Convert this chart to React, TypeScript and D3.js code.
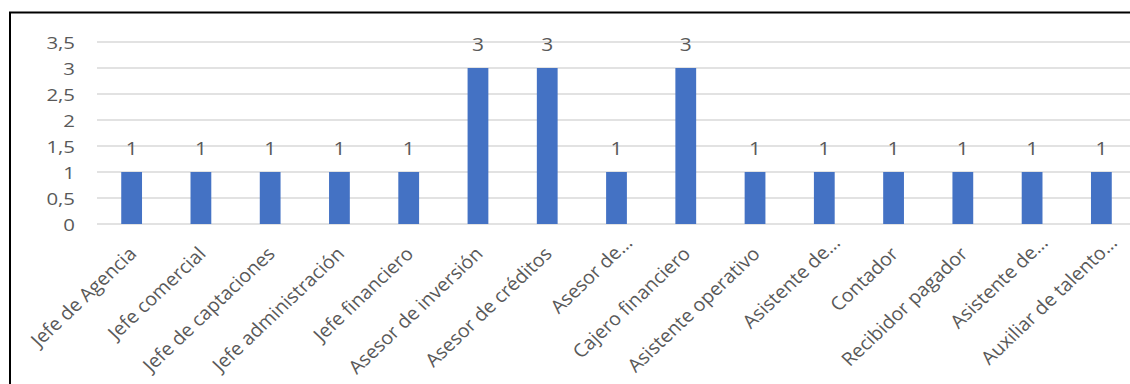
import { scaleBand, scaleLinear } from "d3";

const categories = [
  "Jefe de Agencia",
  "Jefe comercial",
  "Jefe de captaciones",
  "Jefe administración",
  "Jefe financiero",
  "Asesor de inversión",
  "Asesor de créditos",
  "Asesor de…",
  "Cajero financiero",
  "Asistente operativo",
  "Asistente de…",
  "Contador",
  "Recibidor pagador",
  "Asistente de…",
  "Auxiliar de talento…",
];
const values = [1, 1, 1, 1, 1, 3, 3, 1, 3, 1, 1, 1, 1, 1, 1];
const yTicks = [0, 0.5, 1, 1.5, 2, 2.5, 3, 3.5];

const W = 1130;
const H = 384;
const FONT = "'Open Sans', sans-serif";
const TEXT = "#595959";

export default function App() {
  // x band per category, bars ~30% of the slot
  const x = scaleBand<number>()
    .domain(categories.map((_, i) => i))
    .range([97, 1136])
    .paddingInner(0.7)
    .paddingOuter(0.35);
  const y = scaleLinear().domain([0, 3.5]).range([224, 42]);
  const fmt = (v: number) => String(v).replace(".", ",");

  return (
    <svg
      width={W}
      height={H}
      style={{ position: "absolute", left: 0, top: 0, background: "#fff" }}
      fontFamily={FONT}
    >
      <rect x={0} y={0} width={W} height={H} fill="#fff" />

      {/* gridlines */}
      {yTicks.map((t) => (
        <line
          key={t}
          x1={97}
          x2={W}
          y1={y(t)}
          y2={y(t)}
          stroke="#d9d9d9"
          strokeWidth={1.6}
        />
      ))}

      {/* y tick labels (source picture is a bit stretched sideways) */}
      {yTicks.map((t) => (
        <text
          key={"t" + t}
          transform={`translate(75,${y(t)}) scale(1.2,1)`}
          dy="0.43em"
          textAnchor="end"
          fontSize={17}
          fill={TEXT}
        >
          {fmt(t)}
        </text>
      ))}

      {/* bars */}
      {values.map((v, i) => (
        <rect
          key={"b" + i}
          x={x(i)}
          y={y(v)}
          width={x.bandwidth()}
          height={y(0) - y(v)}
          fill="#4472c4"
        />
      ))}

      {/* value labels */}
      {values.map((v, i) => (
        <text
          key={"v" + i}
          transform={`translate(${(x(i) ?? 0) + x.bandwidth() / 2},${y(v) - 17.5}) scale(1.1,1)`}
          textAnchor="middle"
          fontSize={19}
          fill={TEXT}
        >
          {v}
        </text>
      ))}

      {/* category labels, rotated -45 */}
      {categories.map((c, i) => {
        const cx = (x(i) ?? 0) + x.bandwidth() / 2;
        const trunc = c.endsWith("…");
        const dx = trunc ? 17 : 6;
        const dy = trunc ? 20 : 31;
        return (
          <text
            key={"c" + i}
            transform={`translate(${cx + dx},${224 + dy}) scale(1.06,1) rotate(-45)`}
            textAnchor="end"
            fontSize={18.6}
            fill={TEXT}
          >
            {c}
          </text>
        );
      })}

      {/* outer frame */}
      <rect
        x={10}
        y={12.5}
        width={W + 20}
        height={H + 20}
        fill="none"
        stroke="#000"
        strokeWidth={2}
      />
    </svg>
  );
}
